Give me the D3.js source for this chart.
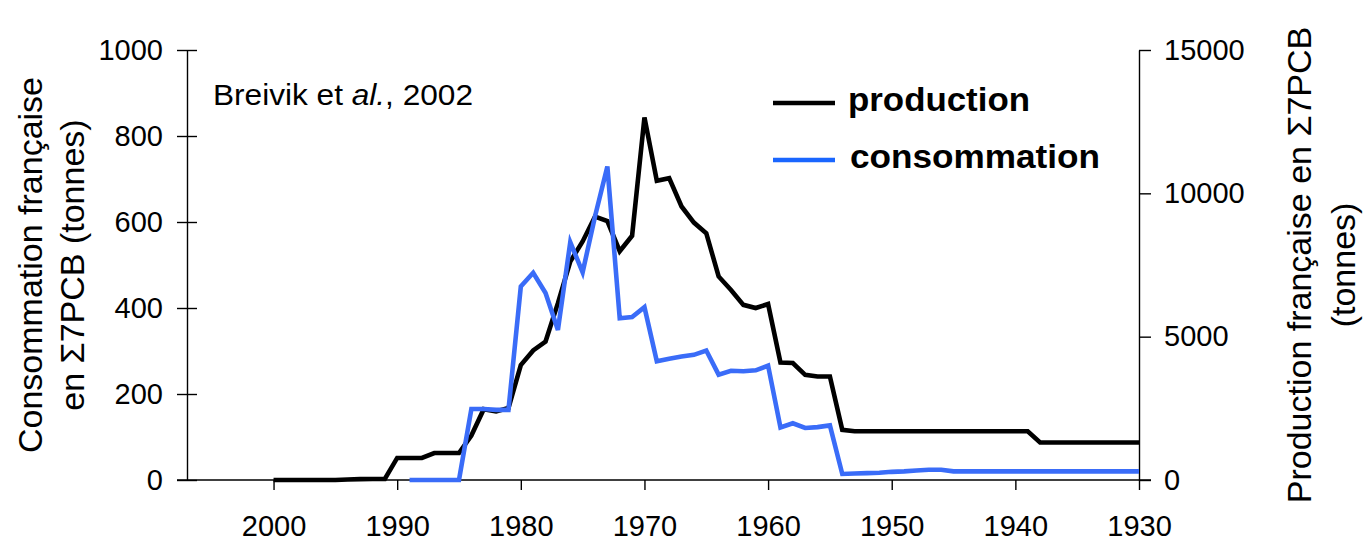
<!DOCTYPE html>
<html>
<head>
<meta charset="utf-8">
<script src="https://cdn.jsdelivr.net/npm/d3@7"></script>
<style>
  body { margin: 0; background: #fff; }
  svg { display: block; font-family: "Liberation Sans", Arial, sans-serif; }
  .axis path, .axis line { stroke: #000; stroke-width: 1.4; }
  .axis text { font-size: 29px; fill: #000; font-family: "Liberation Sans", Arial, sans-serif; }
</style>
</head>
<body>
<div id="chart"></div>
<script>
// years run from 2000 back to 1930 (x axis is reversed)
const years = d3.range(2000, 1929, -1);

// production française, tonnes (right axis)
const production = [
  0, 0, 0, 0, 0, 0, 15, 30, 35, 35,              // 2000-1991
  770, 770, 770, 940, 940, 940, 1550, 2470, 2390, 2510, // 1990-1981
  4010, 4520, 4830, 6170, 7620, 8320, 9190, 9030, 7980, 8520, // 1980-1971
  12650, 10440, 10530, 9540, 8980, 8610, 7100, 6630, 6110, 6000, // 1970-1961
  6140, 4100, 4080, 3670, 3610, 3610, 1750, 1700, 1700, 1700, // 1960-1951
  1700, 1700, 1700, 1700, 1700, 1700, 1700, 1700, 1700, 1700, // 1950-1941
  1700, 1700, 1310, 1310, 1310, 1310, 1310, 1310, 1310, 1310, // 1940-1931
  1310                                            // 1930
];

// consommation française, tonnes (left axis)
const consommation = [
  null, null, null, null, null, null, null, null, null, null, // 2000-1991
  null, 0, 0, 0, 0, 0, 165, 165, 163, 163,        // 1990-1981
  450, 482, 435, 349, 553, 483, 613, 729, 376, 379, // 1980-1971
  402, 276, 282, 287, 291, 301, 245, 254, 253, 255, // 1970-1961
  266, 122, 132, 121, 123, 127, 14, 15, 16, 17,   // 1960-1951
  19, 20, 22, 24, 24, 20, 20, 20, 20, 20,         // 1950-1941
  20, 20, 20, 20, 20, 20, 20, 20, 20, 20,         // 1940-1931
  20                                              // 1930
];

const xTicks = [2000, 1990, 1980, 1970, 1960, 1950, 1940, 1930];
const leftTicks = [0, 200, 400, 600, 800, 1000];
const rightTicks = [0, 5000, 10000, 15000];

const width = 1372, height = 543;
const margin = { top: 50, right: 233, bottom: 63, left: 187 };

const svg = d3.select('#chart').append('svg')
  .attr('width', width)
  .attr('height', height);

const x = d3.scaleLinear()
  .domain([2007, 1930])
  .range([margin.left, width - margin.right]);

const yL = d3.scaleLinear()
  .domain([0, 1000])
  .range([height - margin.bottom, margin.top]);

const yR = d3.scaleLinear()
  .domain([0, 15000])
  .range([height - margin.bottom, margin.top]);

const y0 = yL(0);
const fmt = d3.format('d');

// x axis
const xAxis = svg.append('g')
  .attr('class', 'axis')
  .attr('transform', `translate(0,${y0})`)
  .call(d3.axisBottom(x).tickValues(xTicks).tickFormat(fmt)
    .tickSize(10).tickSizeOuter(0).tickPadding(25));
xAxis.select('.domain').remove();
xAxis.append('line')
  .attr('x1', x.range()[0] - 10)
  .attr('x2', x.range()[1] + 12);
xAxis.selectAll('.tick text').attr('dy', '0.71em');

// left axis, ticks crossing the line
const leftAxis = svg.append('g')
  .attr('class', 'axis')
  .attr('transform', `translate(${x.range()[0]},0)`)
  .call(d3.axisLeft(yL).tickValues(leftTicks).tickFormat(fmt)
    .tickSize(10).tickSizeOuter(0).tickPadding(14));
leftAxis.selectAll('.tick').append('line')
  .attr('x1', 0).attr('x2', 10);

// right axis
svg.append('g')
  .attr('class', 'axis')
  .attr('transform', `translate(${x.range()[1]},0)`)
  .call(d3.axisRight(yR).tickValues(rightTicks).tickFormat(fmt)
    .tickSize(12).tickSizeOuter(0).tickPadding(13));

// lines
const lineProd = d3.line()
  .x((d, i) => x(years[i]))
  .y(d => yR(d));

const lineCons = d3.line()
  .defined(d => d !== null)
  .x((d, i) => x(years[i]))
  .y(d => yL(d));

svg.append('path')
  .datum(production)
  .attr('fill', 'none')
  .attr('stroke', '#000')
  .attr('stroke-width', 4.6)
  .attr('d', lineProd);

svg.append('path')
  .datum(consommation)
  .attr('fill', 'none')
  .attr('stroke', '#3a6cf8')
  .attr('stroke-width', 4.6)
  .attr('d', lineCons);

// axis titles
const midY = (margin.top + height - margin.bottom) / 2;
const leftTitle = svg.append('text')
  .attr('transform', `translate(0,${midY}) rotate(-90)`)
  .attr('text-anchor', 'middle')
  .style('font-size', '34px');
leftTitle.append('tspan').attr('x', 0).attr('y', 42).text('Consommation française');
leftTitle.append('tspan').attr('x', 0).attr('y', 84).text('en Σ7PCB (tonnes)');

const rightTitle = svg.append('text')
  .attr('transform', `translate(0,${midY}) rotate(-90)`)
  .attr('text-anchor', 'middle')
  .style('font-size', '34px');
rightTitle.append('tspan').attr('x', 0).attr('y', 1311).text('Production française en Σ7PCB');
rightTitle.append('tspan').attr('x', 0).attr('y', 1355).text('(tonnes)');

// source note
const note = svg.append('text')
  .attr('x', 213).attr('y', 105)
  .attr('textLength', 260).attr('lengthAdjust', 'spacingAndGlyphs')
  .style('font-size', '29px');
note.append('tspan').text('Breivik et ');
note.append('tspan').style('font-style', 'italic').text('al.');
note.append('tspan').text(', 2002');

// legend
const legend = [
  { label: 'production', color: '#000', y: 103, w: 182, tx: 848 },
  { label: 'consommation', color: '#1a66ff', y: 160, w: 250, tx: 850 }
];
const lg = svg.append('g');
legend.forEach(d => {
  lg.append('line')
    .attr('x1', 773).attr('x2', 835)
    .attr('y1', d.y).attr('y2', d.y)
    .attr('stroke', d.color).attr('stroke-width', 4.5);
  lg.append('text')
    .attr('x', d.tx).attr('y', d.y + 8)
    .attr('textLength', d.w).attr('lengthAdjust', 'spacingAndGlyphs')
    .style('font-size', '33px')
    .style('font-weight', 'bold')
    .text(d.label);
});
</script>
</body>
</html>
